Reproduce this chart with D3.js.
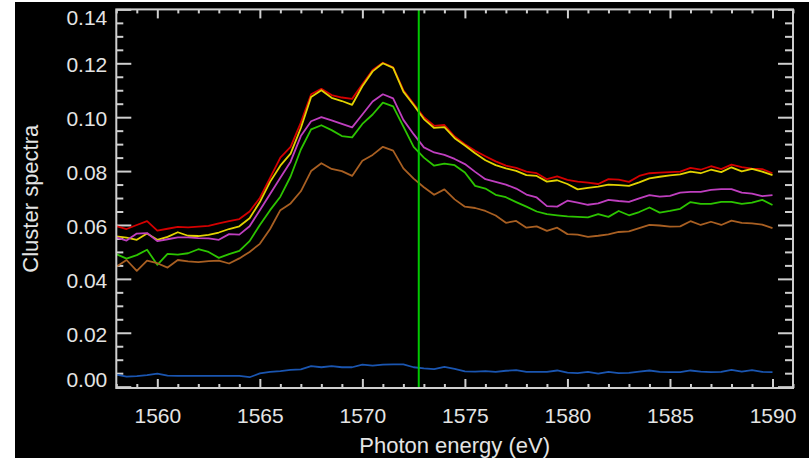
<!DOCTYPE html>
<html><head><meta charset="utf-8">
<script src="https://cdn.jsdelivr.net/npm/d3@7"></script>
<style>
html,body{margin:0;padding:0;background:#fff;}
svg{display:block;}
text{font-family:"Liberation Sans",Arial,Helvetica,sans-serif;fill:#e4e4e4;}
</style></head>
<body>
<svg id="chart" width="809" height="458"></svg>
<script>
const energy = [1558,1558.5,1559,1559.5,1560,1560.5,1561,1561.5,1562,1562.5,
1563,1563.5,1564,1564.5,1565,1565.5,1566,1566.5,1567,1567.5,
1568,1568.5,1569,1569.5,1570,1570.5,1571,1571.5,1572,1572.5,
1573,1573.5,1574,1574.5,1575,1575.5,1576,1576.5,1577,1577.5,
1578,1578.5,1579,1579.5,1580,1580.5,1581,1581.5,1582,1582.5,
1583,1583.5,1584,1584.5,1585,1585.5,1586,1586.5,1587,1587.5,
1588,1588.5,1589,1589.5,1590];

const redSeries = [0.0596,0.0585,0.0600,0.0614,0.0579,0.0586,0.0593,0.0591,0.0594,0.0597,
0.0606,0.0614,0.0622,0.0650,0.0700,0.0775,0.0850,0.0890,0.0980,0.1085,
0.1105,0.1082,0.1073,0.1068,0.1122,0.1175,0.1202,0.1185,0.1100,0.1050,
0.1000,0.0968,0.0971,0.0928,0.0900,0.0875,0.0855,0.0836,0.0820,0.0812,
0.0798,0.0792,0.0770,0.0780,0.0767,0.0761,0.0757,0.0752,0.0770,0.0768,
0.0760,0.0782,0.0792,0.0794,0.0796,0.0798,0.0812,0.0805,0.0818,0.0807,
0.0824,0.0815,0.0809,0.0807,0.0792];

const yellowSeries = [0.0558,0.0553,0.0545,0.0568,0.0545,0.0556,0.0573,0.0560,0.0559,0.0563,
0.0572,0.0585,0.0595,0.0625,0.0685,0.0760,0.0820,0.0865,0.0960,0.1075,
0.1100,0.1072,0.1060,0.1046,0.1115,0.1170,0.1200,0.1183,0.1095,0.1045,
0.0993,0.0960,0.0963,0.0922,0.0895,0.0866,0.0840,0.0822,0.0810,0.0801,
0.0785,0.0782,0.0761,0.0766,0.0752,0.0732,0.0738,0.0742,0.0750,0.0748,
0.0745,0.0758,0.0773,0.0779,0.0784,0.0788,0.0798,0.0792,0.0805,0.0796,
0.0814,0.0799,0.0808,0.0798,0.0785];

const magentaSeries = [0.0554,0.0542,0.0568,0.0570,0.0540,0.0547,0.0554,0.0554,0.0551,0.0550,
0.0545,0.0566,0.0564,0.0595,0.0655,0.0715,0.0775,0.0835,0.0930,0.0985,
0.1000,0.0988,0.0975,0.0962,0.1010,0.1058,0.1085,0.1070,0.0990,0.0937,
0.0888,0.0869,0.0860,0.0845,0.0826,0.0797,0.0770,0.0760,0.0750,0.0735,
0.0713,0.0702,0.0670,0.0668,0.0690,0.0683,0.0675,0.0680,0.0693,0.0689,
0.0686,0.0699,0.0711,0.0705,0.0708,0.0720,0.0723,0.0723,0.0730,0.0733,
0.0733,0.0720,0.0716,0.0707,0.0711];

const greenSeries = [0.0492,0.0475,0.0488,0.0508,0.0452,0.0493,0.0490,0.0495,0.0510,0.0500,
0.0478,0.0492,0.0504,0.0540,0.0600,0.0655,0.0705,0.0780,0.0880,0.0955,
0.0970,0.0952,0.0930,0.0925,0.0975,0.1010,0.1054,0.1040,0.0965,0.0890,
0.0850,0.0820,0.0828,0.0822,0.0795,0.0745,0.0735,0.0712,0.0703,0.0685,
0.0668,0.0650,0.0640,0.0636,0.0632,0.0630,0.0628,0.0640,0.0630,0.0652,
0.0636,0.0648,0.0665,0.0646,0.0652,0.0660,0.0685,0.0678,0.0678,0.0686,
0.0686,0.0678,0.0683,0.0693,0.0674];

const brownSeries = [0.0445,0.0470,0.0430,0.0468,0.0458,0.0442,0.0470,0.0465,0.0462,0.0466,
0.0468,0.0457,0.0476,0.0500,0.0530,0.0585,0.0655,0.0680,0.0725,0.0800,
0.0829,0.0808,0.0800,0.0782,0.0838,0.0860,0.0890,0.0876,0.0810,0.0772,
0.0740,0.0712,0.0732,0.0695,0.0668,0.0663,0.0652,0.0635,0.0608,0.0615,
0.0590,0.0595,0.0578,0.0590,0.0566,0.0564,0.0556,0.0560,0.0565,0.0574,
0.0576,0.0588,0.0600,0.0598,0.0594,0.0595,0.0614,0.0600,0.0612,0.0600,
0.0616,0.0608,0.0606,0.0601,0.0588];

const blueSeries = [0.0045,0.0037,0.0039,0.0043,0.0048,0.0041,0.0040,0.0040,0.0040,0.0040,
0.0040,0.0040,0.0040,0.0035,0.0049,0.0055,0.0058,0.0062,0.0064,0.0076,
0.0072,0.0076,0.0072,0.0072,0.0082,0.0078,0.0082,0.0083,0.0083,0.0072,
0.0068,0.0065,0.0073,0.0066,0.0057,0.0056,0.0058,0.0055,0.0059,0.0061,
0.0055,0.0055,0.0055,0.0060,0.0052,0.0050,0.0055,0.0048,0.0055,0.0050,
0.0051,0.0056,0.0060,0.0055,0.0054,0.0054,0.0060,0.0056,0.0054,0.0055,
0.0062,0.0056,0.0061,0.0055,0.0054];

const seriesNames = ["red","yellow","magenta","green","brown","blue"];
const seriesColors = ["#d40000","#e2d200","#bf3fbf","#2cc400","#a85f22","#1a55b0"];
const seriesValues = [redSeries,yellowSeries,magentaSeries,greenSeries,brownSeries,blueSeries];

const xMajorTicks = [1560,1565,1570,1575,1580,1585,1590];
const yMajorTicks = [0.00,0.02,0.04,0.06,0.08,0.10,0.12,0.14];
const markerEnergy = 1572.75;
const xTitle = "Photon energy (eV)";
const yTitle = "Cluster spectra";

const svg = d3.select("#chart");
const L = 116.3, R = 793, T = 9.4, B = 388;
const frameColor = "#cfcfcf";

svg.append("rect").attr("x",15).attr("y",2).attr("width",809-15).attr("height",458-2).attr("fill","#000");

const x = d3.scaleLinear().domain([1558,1591]).range([L,R]);
const y = d3.scaleLinear().domain([-0.0005,0.14]).range([B,T]);

const xMinor = d3.range(1558,1592,1).filter(v => v % 5 !== 0);
const yMinor = d3.range(0,0.1401,0.005).filter(v => Math.abs(Math.round(v*100/2)*0.02 - v) > 1e-6);

function styleAxis(g){
  g.select(".domain").remove();
  g.selectAll("line").attr("stroke",frameColor).attr("stroke-width",2);
}

// bottom axis major
const gB = svg.append("g").attr("transform",`translate(0,${B})`)
  .call(d3.axisBottom(x).tickValues(xMajorTicks).tickSize(-9).tickPadding(20).tickFormat(d3.format("d")));
styleAxis(gB);
gB.selectAll("text").attr("font-size",21).attr("fill","#e4e4e4");
const gBm = svg.append("g").attr("transform",`translate(0,${B})`)
  .call(d3.axisBottom(x).tickValues(xMinor).tickSize(-4).tickFormat(""));
styleAxis(gBm);
// top axis
const gT = svg.append("g").attr("transform",`translate(0,${T})`)
  .call(d3.axisTop(x).tickValues(xMajorTicks).tickSize(-9).tickFormat(""));
styleAxis(gT);
const gTm = svg.append("g").attr("transform",`translate(0,${T})`)
  .call(d3.axisTop(x).tickValues(xMinor).tickSize(-4).tickFormat(""));
styleAxis(gTm);

// left axis
const gL = svg.append("g").attr("transform",`translate(${L},0)`)
  .call(d3.axisLeft(y).tickValues(yMajorTicks).tickSize(-15).tickPadding(9).tickFormat(d3.format(".2f")));
styleAxis(gL);
gL.selectAll("text").attr("font-size",21).attr("fill","#e4e4e4").attr("dy","0.4em")
  .filter(d => d === 0.14).attr("dy","0.74em");
gL.selectAll("text").filter(d => d === 0).attr("dy","0em");
const gLm = svg.append("g").attr("transform",`translate(${L},0)`)
  .call(d3.axisLeft(y).tickValues(yMinor).tickSize(-7).tickFormat(""));
styleAxis(gLm);
// right axis
const gR = svg.append("g").attr("transform",`translate(${R},0)`)
  .call(d3.axisRight(y).tickValues(yMajorTicks).tickSize(-15).tickFormat(""));
styleAxis(gR);
const gRm = svg.append("g").attr("transform",`translate(${R},0)`)
  .call(d3.axisRight(y).tickValues(yMinor).tickSize(-8).tickFormat(""));
styleAxis(gRm);

// lines
const line = d3.line().x((d,i) => x(energy[i])).y(d => y(d));
const drawOrder = [0,1,2,3,4,5];
drawOrder.forEach(k => {
  svg.append("path").datum(seriesValues[k])
    .attr("d", line)
    .attr("fill","none")
    .attr("stroke", seriesColors[k])
    .attr("stroke-width", 1.8)
    .attr("stroke-linejoin","round")
    .attr("class","series-"+seriesNames[k]);
});

// marker line
svg.append("line")
  .attr("x1",x(markerEnergy)).attr("x2",x(markerEnergy))
  .attr("y1",y.range()[0]).attr("y2",y.range()[1])
  .attr("stroke","#00c800").attr("stroke-width",2);

// frame
svg.append("rect").attr("x",L).attr("y",T).attr("width",R-L).attr("height",B-T)
  .attr("fill","none").attr("stroke",frameColor).attr("stroke-width",2);

// titles
svg.append("text").attr("x",(L+R)/2).attr("y",453).attr("text-anchor","middle")
  .attr("font-size",22).text(xTitle);
svg.append("text").attr("transform",`translate(38,${(T+B)/2}) rotate(-90)`)
  .attr("text-anchor","middle").attr("font-size",22).text(yTitle);
</script>
</body></html>
